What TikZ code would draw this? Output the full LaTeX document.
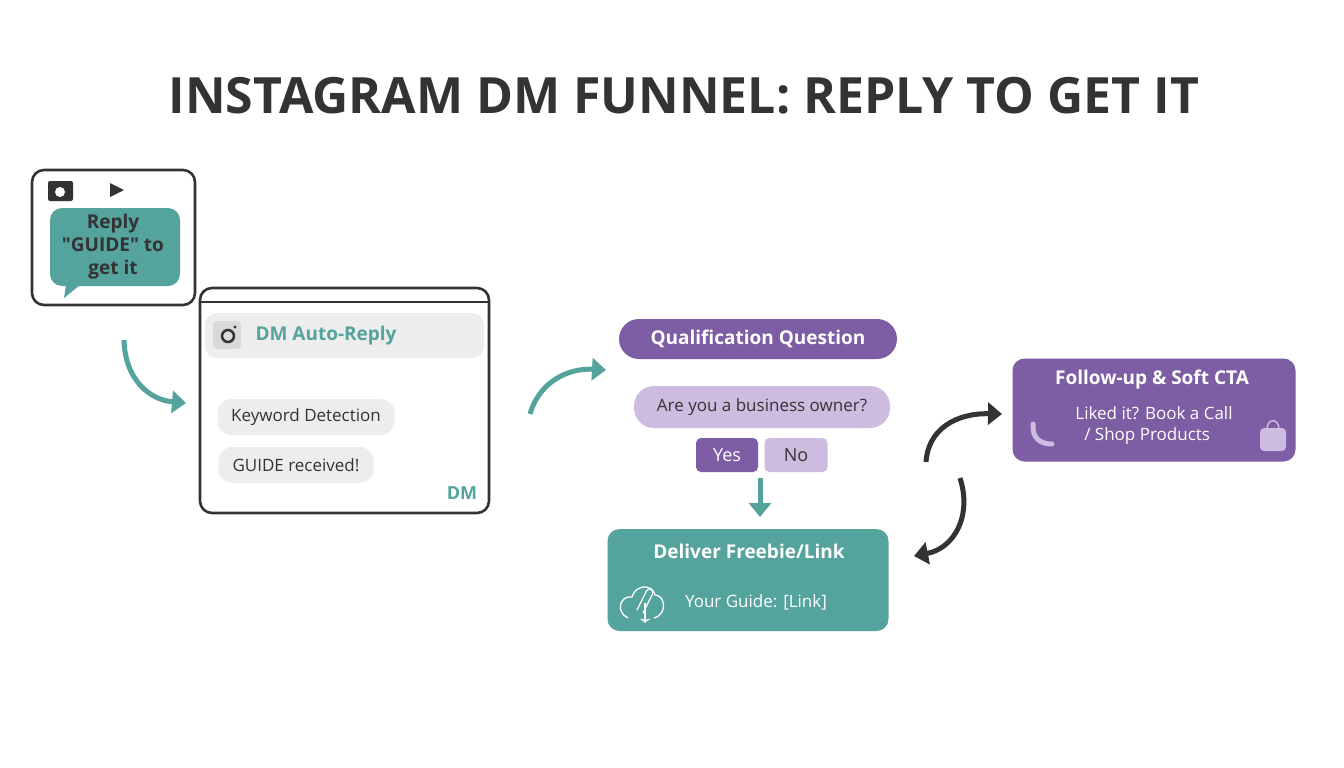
\documentclass[tikz,border=0pt]{standalone}
\usepackage{fontspec}
\setmainfont{Open Sans}[Ligatures=TeXOff]
\usetikzlibrary{arrows.meta}
\definecolor{teal1}{HTML}{54A39C}
\definecolor{purp}{HTML}{7D5DA3}
\definecolor{lpurp}{HTML}{CDBCE0}
\definecolor{dark}{HTML}{333333}
\definecolor{lgray}{HTML}{EDEDED}
\begin{document}
\begin{tikzpicture}[x=1pt,y=-1pt,
  frame/.style={draw=dark,line width=2.6pt,rounded corners=12pt,fill=white},
  pill/.style={rounded corners=14pt,inner sep=0pt},
  tarrow/.style={draw=teal1,line width=5pt,-{Triangle[length=14pt,width=22pt]}},
  darrow/.style={draw=dark,line width=5pt,-{Triangle[length=14pt,width=22pt]}},
  wtxt/.style={text=white,font=\bfseries\fontsize{19}{22}\selectfont},
  btxt/.style={text=dark,font=\fontsize{17}{21}\selectfont}]
\fill[white] (0,0) rectangle (1344,768);
\node[text=dark,font=\bfseries\fontsize{50}{56}\selectfont] (title) at (684,96) {INSTAGRAM DM FUNNEL: REPLY TO GET IT};
% box 1
\draw[frame] (32,170) rectangle (195,305);
\fill[dark,rounded corners=2pt] (48,181) rectangle (73,201);
\fill[white] (60,192) circle (5pt);
\fill[dark] (110,183) -- (124,190) -- (110,197) -- cycle;
\fill[teal1] (66,285) -- (64,298) -- (80,285) -- cycle;
\fill[teal1,rounded corners=12pt] (50,208) rectangle (180,286);
\node[text=dark,font=\bfseries\fontsize{19}{23}\selectfont,align=center] (reply) at (113,247) {Reply\\"GUIDE" to\\get it};
% box 2
\draw[frame] (200,288) rectangle (489,513);
\draw[dark,line width=2.6pt] (200,302) -- (489,302);
\fill[lgray,rounded corners=12pt] (205,313) rectangle (484,358);
\fill[gray!30,rounded corners=4pt] (213,321) rectangle (241,349);
\draw[dark,line width=2.5pt] (228,336) circle (6pt);
\fill[dark] (235,327) circle (1.6pt);
\node[anchor=west,text=teal1,font=\bfseries\fontsize{19}{22}\selectfont] (dmar) at (252,336) {DM Auto-Reply};
\node[pill,fill=lgray,btxt,minimum width=177pt,minimum height=36pt] (kw) at (306,417) {Keyword Detection};
\node[pill,fill=lgray,btxt,minimum width=155pt,minimum height=36pt] (gr) at (296,465) {GUIDE received!};
\node[text=teal1,font=\bfseries\fontsize{18}{20}\selectfont] (dm) at (462,493) {DM};
% arrows teal
\coordinate (a1s) at (124,340);
\coordinate (a1e) at (186,403);
\draw[tarrow] (a1s) .. controls (125,380) and (150,400) .. (a1e);
\coordinate (a2s) at (530,414);
\coordinate (a2e) at (606,370);
\draw[tarrow] (a2s) .. controls (540,380) and (570,368) .. (a2e);
% qualification
\node[pill,fill=purp,wtxt,minimum width=278pt,minimum height=40pt,rounded corners=20pt] (q) at (758,339) {Qualification Question};
\node[pill,fill=lpurp,btxt,minimum width=256pt,minimum height=42pt,rounded corners=20pt] (ask) at (762,407) {Are you a business owner?};
\node[fill=purp,text=white,font=\fontsize{18}{20}\selectfont,rounded corners=5pt,minimum width=62pt,minimum height=34pt] (yes) at (727,455) {Yes};
\node[fill=lpurp,text=dark,font=\fontsize{18}{20}\selectfont,rounded corners=5pt,minimum width=63pt,minimum height=34pt] (no) at (796,455) {No};
\draw[tarrow] (760,478) -- (760,517);
% deliver
\node[fill=teal1,rounded corners=12pt,minimum width=281pt,minimum height=102pt] (del) at (748,580) {};
\node[wtxt] (delt) at (749,551) {Deliver Freebie/Link};
\node[text=white,font=\fontsize{17}{20}\selectfont] (guide) at (756,602) {Your Guide: [Link]};
\draw[white,line width=1.3pt] (628,618) .. controls (615,612) and (620,595) .. (632,597) .. controls (635,585) and (652,583) .. (655,595) .. controls (665,595) and (668,614) .. (654,618);
\draw[white,line width=1.3pt,->] (645,603) -- (645,623);
\draw[white,line width=1.3pt,rounded corners=3pt] (637,610) -- (648,588) -- (654,591) -- (643,613);
% follow-up
\node[fill=purp,rounded corners=12pt,minimum width=283pt,minimum height=103pt] (fu) at (1154,410) {};
\node[wtxt] (fut) at (1152,380) {Follow-up \& Soft CTA};
\node[text=white,font=\fontsize{17}{21}\selectfont,align=left] (fux) at (1154,426) {Liked it? Book a Call\\\ \ / Shop Products};
\fill[lpurp,rounded corners=4pt] (1260,428) rectangle (1286,451);
\draw[lpurp,line width=1.5pt] (1267,429) .. controls (1267,418) and (1279,418) .. (1279,429);
\draw[lpurp,line width=5pt,line cap=round] (1033,424) .. controls (1032,438) and (1040,444) .. (1052,444);
% dark arrows
\coordinate (d1s) at (926,462);
\coordinate (d1e) at (1002,414);
\draw[darrow] (d1s) .. controls (928,430) and (955,413) .. (d1e);
\coordinate (d2s) at (960,478);
\coordinate (d2e) at (914,556);
\draw[darrow] (d2s) .. controls (972,515) and (955,548) .. (d2e);
\end{tikzpicture}
\end{document}
